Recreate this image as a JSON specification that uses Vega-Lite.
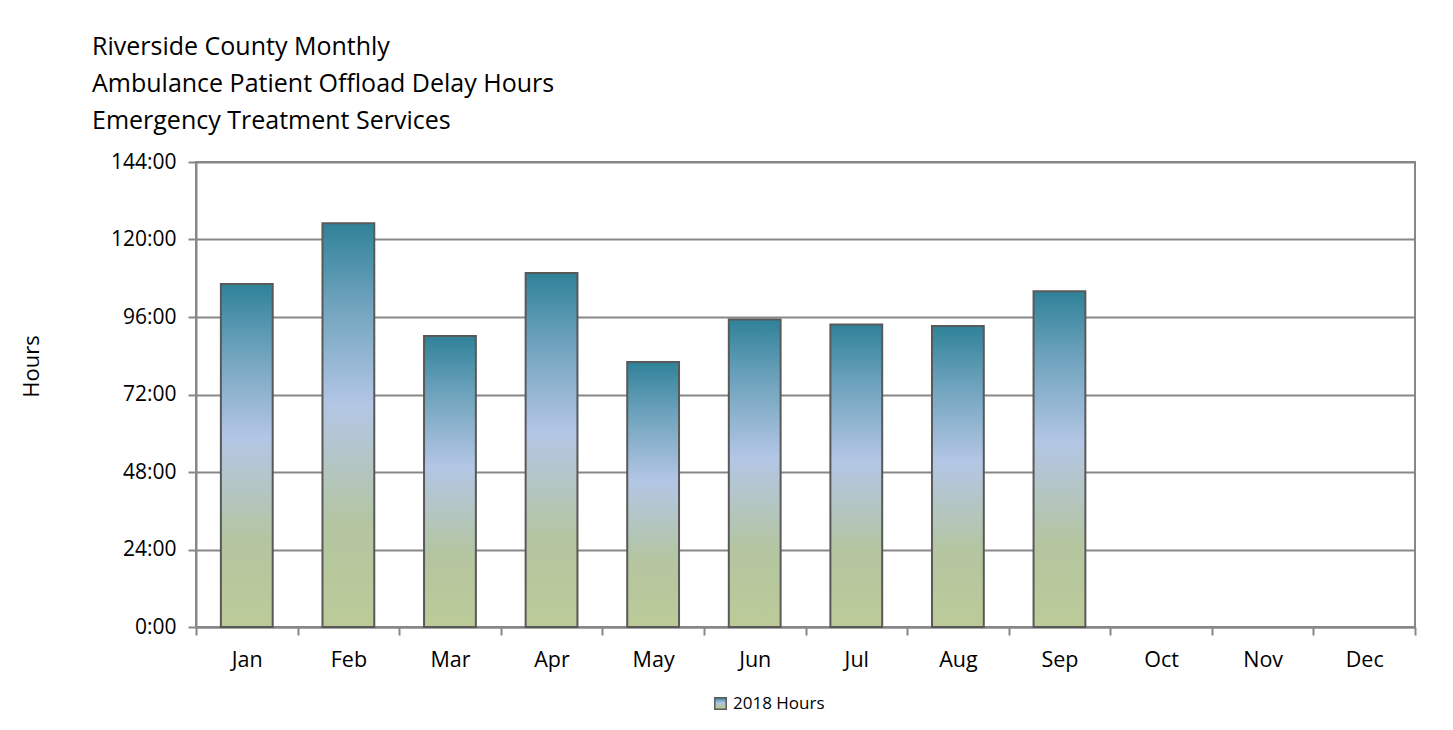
{
  "$schema": "https://vega.github.io/schema/vega-lite/v6.json",
  "width": 1219,
  "height": 465,
  "autosize": {"type": "none"},
  "padding": {"left": 196, "top": 162, "right": 38, "bottom": 103},
  "background": "white",
  "title": {
    "text": ["Riverside County Monthly", "Ambulance Patient Offload Delay Hours", "Emergency Treatment Services"],
    "anchor": "start",
    "frame": "group",
    "dx": -104,
    "offset": 17,
    "font": "Open Sans",
    "fontSize": 25,
    "fontWeight": "normal",
    "lineHeight": 37,
    "color": "#000000"
  },
  "data": {
    "values": [
      {"month": "Jan", "hours": 106.2, "series": "2018 Hours"},
      {"month": "Feb", "hours": 125.0, "series": "2018 Hours"},
      {"month": "Mar", "hours": 90.1, "series": "2018 Hours"},
      {"month": "Apr", "hours": 109.6, "series": "2018 Hours"},
      {"month": "May", "hours": 82.1, "series": "2018 Hours"},
      {"month": "Jun", "hours": 95.2, "series": "2018 Hours"},
      {"month": "Jul", "hours": 93.7, "series": "2018 Hours"},
      {"month": "Aug", "hours": 93.2, "series": "2018 Hours"},
      {"month": "Sep", "hours": 104.0, "series": "2018 Hours"}
    ]
  },
  "mark": {"type": "bar", "strokeWidth": 2, "width": {"band": 0.51}},
  "encoding": {
    "x": {
      "field": "month",
      "type": "nominal",
      "sort": null,
      "scale": {
        "domain": ["Jan", "Feb", "Mar", "Apr", "May", "Jun", "Jul", "Aug", "Sep", "Oct", "Nov", "Dec"],
        "paddingInner": 0,
        "paddingOuter": 0
      },
      "axis": {
        "title": null,
        "labelAngle": 0,
        "tickBand": "extent",
        "tickSize": 8,
        "tickWidth": 2,
        "tickColor": "#878787",
        "domainColor": "#878787",
        "domainWidth": 2,
        "labelPadding": 14,
        "labelFont": "Open Sans",
        "labelFontSize": 21.5,
        "labelColor": "#000000",
        "grid": false
      }
    },
    "y": {
      "field": "hours",
      "type": "quantitative",
      "scale": {"domain": [0, 144], "nice": false},
      "axis": {
        "title": "Hours",
        "titleFont": "Open Sans",
        "titleFontSize": 22,
        "titleFontWeight": "normal",
        "titleColor": "#000000",
        "titleX": -153,
        "titleY": 204,
        "titleAngle": -90,
        "values": [0, 24, 48, 72, 96, 120, 144],
        "labelExpr": "datum.value + ':00'",
        "labelFont": "Open Sans",
        "labelFontSize": 21,
        "labelColor": "#000000",
        "labelPadding": 12,
        "tickSize": 8,
        "tickWidth": 2,
        "tickColor": "#878787",
        "domainColor": "#878787",
        "domainWidth": 2,
        "grid": true,
        "gridColor": "#878787",
        "gridWidth": 2
      }
    },
    "fill": {
      "value": {
        "gradient": "linear",
        "x1": 0, "y1": 1, "x2": 0, "y2": 0,
        "stops": [
          {"offset": 0, "color": "#bccb98"},
          {"offset": 0.25, "color": "#b4c5a0"},
          {"offset": 0.55, "color": "#b3c6e5"},
          {"offset": 0.8, "color": "#6fa3bd"},
          {"offset": 1, "color": "#2f8299"}
        ]
      }
    },
    "stroke": {
      "field": "series",
      "type": "nominal",
      "scale": {"range": ["#595959"]},
      "legend": {
        "title": null,
        "orient": "none",
        "legendX": 516,
        "legendY": 533,
        "symbolType": "square",
        "symbolSize": 130,
        "symbolStrokeWidth": 1.5,
        "labelFont": "Open Sans",
        "labelFontSize": 17,
        "labelColor": "#000000",
        "labelOffset": 4,
        "encode": {
          "symbols": {
            "update": {
              "fill": {
                "value": {
                  "gradient": "linear",
                  "x1": 0, "y1": 1, "x2": 0, "y2": 0,
                  "stops": [
                    {"offset": 0, "color": "#bccb98"},
                    {"offset": 0.5, "color": "#b3c6e5"},
                    {"offset": 1, "color": "#2f8299"}
                  ]
                }
              },
              "fillOpacity": {"value": 1}
            }
          }
        }
      }
    }
  },
  "config": {
    "view": {"stroke": "#878787", "strokeWidth": 2}
  }
}
